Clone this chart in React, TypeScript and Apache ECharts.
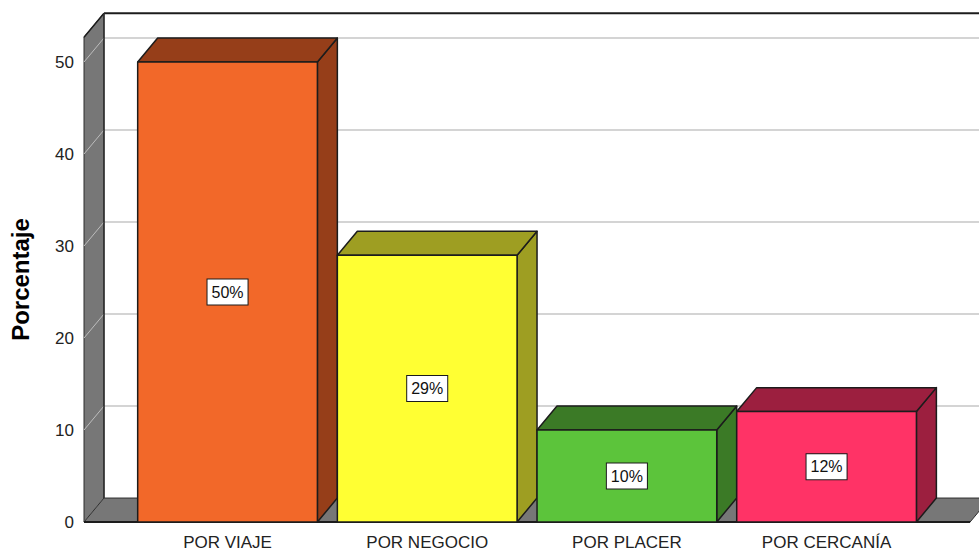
import React, { useEffect, useRef } from "react";
import * as echarts from "echarts";

// Motivos y porcentaje de respuestas
const CATEGORIES = ["POR VIAJE", "POR NEGOCIO", "POR PLACER", "POR CERCANÍA"];
const PERCENTAGES = [50, 29, 10, 12];
const FRONT_COLORS = ["#F26829", "#FFFF33", "#5CC43B", "#FF3366"];
const SHADE_COLORS = ["#963E19", "#9E9E22", "#3B7A26", "#9C1F3F"];

// Value axis
const Y_MIN = 0;
const Y_MAX = 50;
const Y_STEP = 10;
const WALL_TOP = 52.7;

// Layout
const FONT = "'Liberation Sans', Arial, sans-serif";
const GRID_LEFT = 127.7;
const GRID_WIDTH = 798.7;
const AXIS_OFFSET = 43.7;
const DEPTH = 0.1; // depth of the 3D extrusion as a share of the category band
const DEPTH_SLOPE = 1.2;
const WALL_GRAY = "#777777";
const EDGE = "#1c1c1c";

function depthOf(api: any) {
  const band = api.size([1, 0])[0];
  const dx = band * DEPTH;
  return { band, dx, dy: dx * DEPTH_SLOPE };
}

function renderWalls(params: any, api: any) {
  const cs = params.coordSys;
  const { dx, dy } = depthOf(api);
  const left = cs.x - AXIS_OFFSET;
  const right = cs.x + cs.width + AXIS_OFFSET;
  const farRight = right + dx;
  const y0 = api.coord([0, Y_MIN])[1];
  const yTop = api.coord([0, WALL_TOP])[1];
  const children: any[] = [];

  children.push({
    type: "rect",
    shape: { x: left + dx, y: yTop - dy, width: farRight - left - dx, height: y0 - yTop },
    style: { fill: "#ffffff" },
  });
  for (let v = Y_MIN + Y_STEP; v <= Y_MAX; v += Y_STEP) {
    const y = api.coord([0, v])[1];
    children.push({
      type: "line",
      shape: { x1: left + dx, y1: y - dy, x2: farRight, y2: y - dy },
      style: { stroke: "#d4d4d4", lineWidth: 2 },
    });
  }
  children.push({
    type: "polygon",
    shape: { points: [[left, yTop], [left + dx, yTop - dy], [left + dx, y0 - dy], [left, y0]] },
    style: { fill: WALL_GRAY, stroke: "#2e2e2e", lineWidth: 1 },
  });
  for (let v = Y_MIN; v <= Y_MAX; v += Y_STEP) {
    const y = api.coord([0, v])[1];
    children.push({
      type: "line",
      shape: { x1: left, y1: y, x2: left + dx, y2: y - dy },
      style: { stroke: "#bdbdbd", lineWidth: 1 },
    });
  }
  children.push({
    type: "polygon",
    shape: { points: [[left, y0], [left + dx, y0 - dy], [farRight, y0 - dy], [right, y0]] },
    style: { fill: WALL_GRAY, stroke: "#2e2e2e", lineWidth: 1 },
  });
  children.push({
    type: "line",
    shape: { x1: left, y1: yTop, x2: left + dx, y2: yTop - dy },
    style: { stroke: EDGE, lineWidth: 1.5 },
  });
  children.push({
    type: "line",
    shape: { x1: left + dx, y1: yTop - dy, x2: farRight, y2: yTop - dy },
    style: { stroke: EDGE, lineWidth: 2 },
  });
  children.push({
    type: "line",
    shape: { x1: left + dx, y1: yTop - dy, x2: left + dx, y2: y0 - dy },
    style: { stroke: "#2e2e2e", lineWidth: 1.5 },
  });
  children.push({
    type: "line",
    shape: { x1: left, y1: y0, x2: right, y2: y0 },
    style: { stroke: EDGE, lineWidth: 2 },
  });
  return { type: "group", children };
}

function renderBar(params: any, api: any) {
  const idx = api.value(0);
  const val = api.value(1);
  const { band, dx, dy } = depthOf(api);
  const fw = band - dx;
  const top = api.coord([idx, val]);
  const base = api.coord([idx, Y_MIN]);
  const mid = api.coord([idx, val / 2]);
  const x0 = top[0] - fw / 2;
  const x1 = top[0] + fw / 2;
  const yt = top[1];
  const yb = base[1];
  const front = FRONT_COLORS[idx];
  const shade = SHADE_COLORS[idx];
  const edge = { stroke: EDGE, lineWidth: 1.5, lineJoin: "round" };
  return {
    type: "group",
    children: [
      {
        type: "polygon",
        shape: { points: [[x1, yt], [x1 + dx, yt - dy], [x1 + dx, yb - dy], [x1, yb]] },
        style: { fill: shade, ...edge },
      },
      {
        type: "polygon",
        shape: { points: [[x0, yt], [x0 + dx, yt - dy], [x1 + dx, yt - dy], [x1, yt]] },
        style: { fill: shade, ...edge },
      },
      {
        type: "rect",
        shape: { x: x0, y: yt, width: fw, height: yb - yt },
        style: { fill: front, ...edge },
      },
      {
        type: "text",
        style: {
          x: top[0],
          y: mid[1],
          text: `${PERCENTAGES[idx]}%`,
          align: "center",
          verticalAlign: "middle",
          font: `16px ${FONT}`,
          fill: "#111",
          backgroundColor: "#ffffff",
          borderColor: "#1a1a1a",
          borderWidth: 1,
          padding: [5, 4, 4, 4],
        },
      },
    ],
  };
}

export default function App() {
  const ref = useRef<HTMLDivElement>(null);

  useEffect(() => {
    if (!ref.current) return;
    const chart = echarts.init(ref.current, undefined, { renderer: "svg" });
    chart.setOption({
      animation: false,
      backgroundColor: "#ffffff",
      grid: {
        left: GRID_LEFT,
        width: GRID_WIDTH,
        top: 62,
        bottom: 29,
        containLabel: false,
        outerBoundsMode: "none",
      },
      xAxis: {
        type: "category",
        data: CATEGORIES,
        axisLine: { show: false },
        axisTick: { show: false },
        splitLine: { show: false },
        axisLabel: { margin: 12, fontSize: 17, fontFamily: FONT, color: "#222" },
      },
      yAxis: {
        type: "value",
        min: Y_MIN,
        max: Y_MAX,
        interval: Y_STEP,
        offset: AXIS_OFFSET,
        name: "Porcentaje",
        nameLocation: "middle",
        nameRotate: 90,
        nameGap: 52,
        nameTextStyle: {
          fontSize: 24,
          fontWeight: "bold",
          fontFamily: FONT,
          color: "#000",
          padding: [0, 0, 0, 25],
        },
        axisLine: { show: false },
        axisTick: { show: false },
        splitLine: { show: false },
        axisLabel: { margin: 10, fontSize: 17, fontFamily: FONT, color: "#222" },
      },
      series: [
        {
          type: "custom",
          z: 1,
          silent: true,
          renderItem: renderWalls,
          data: [[0, 0]],
        },
        {
          type: "custom",
          z: 2,
          renderItem: renderBar,
          encode: { x: 0, y: 1 },
          data: PERCENTAGES.map((v, i) => [i, v]),
        },
      ],
    });
    return () => chart.dispose();
  }, []);

  return (
    <div
      ref={ref}
      style={{ position: "fixed", left: 0, top: 0, width: 979, height: 551 }}
    />
  );
}
